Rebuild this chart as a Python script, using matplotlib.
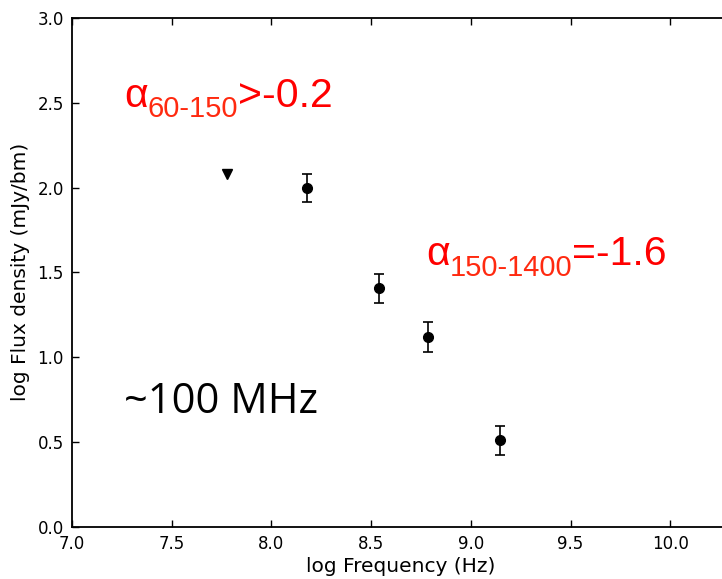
import numpy as np
import matplotlib
matplotlib.use("Agg")
import matplotlib.pyplot as plt

# data
freq_log = [8.176, 8.538, 8.786, 9.147]
flux_log = [1.997, 1.405, 1.118, 0.509]
flux_err = [0.085, 0.085, 0.087, 0.086]
upper_freq = [7.778]
upper_flux = [2.081]

fig = plt.figure(figsize=(7.22, 5.79), dpi=100)
# right end of the axis runs just past the figure edge, as in the reference crop
ax = fig.add_axes([0.0997, 0.0903, 0.9115, 0.8787])

ax.errorbar(freq_log, flux_log, yerr=flux_err, fmt='o', color='black',
            markersize=7, capsize=3.8, elinewidth=1.2, capthick=1.2)
ax.plot(upper_freq, upper_flux, 'v', color='black', markersize=7)

ax.set_xlim(7.0, 10.3)
ax.set_ylim(0.0, 3.0)
ax.set_xticks(np.arange(7.0, 10.01, 0.5))
ax.set_yticks(np.arange(0.0, 3.01, 0.5))
ax.tick_params(direction='in', top=True, right=True, length=5, width=1,
               labelsize=12, pad=6)
for s in ax.spines.values():
    s.set_linewidth(1.3)

ax.set_xlabel('log Frequency (Hz)', fontsize=14.5, labelpad=3)
ax.set_ylabel('log Flux density (mJy/bm)', fontsize=14.5, labelpad=5)


def chain(pieces, x0, y0):
    # place text pieces one after the other, in figure pixels
    fig.canvas.draw()
    r = fig.canvas.get_renderer()
    x = x0
    for txt, size, color, dy in pieces:
        t = fig.text(x / 722, 1 - (y0 + dy) / 579, txt, fontsize=size, color=color,
                     family='Liberation Sans', ha='left', va='baseline')
        x = t.get_window_extent(renderer=r).x1


red = '#ff0000'
sub = '#ff2a10'
chain([('α', 29.5, red, 0), ('60-150', 21, sub, 10), ('>-0.2', 29.5, red, 0)], 124, 107)
chain([('α', 29.5, red, 0), ('150-1400', 21, sub, 11), ('=-1.6', 29.5, red, 0)], 426, 265)

fig.text(124 / 722, 1 - 413 / 579, '~100 MHz', fontsize=30, color='black',
         family='Open Sans', ha='left', va='baseline')

fig.savefig('out.png', dpi=100)
